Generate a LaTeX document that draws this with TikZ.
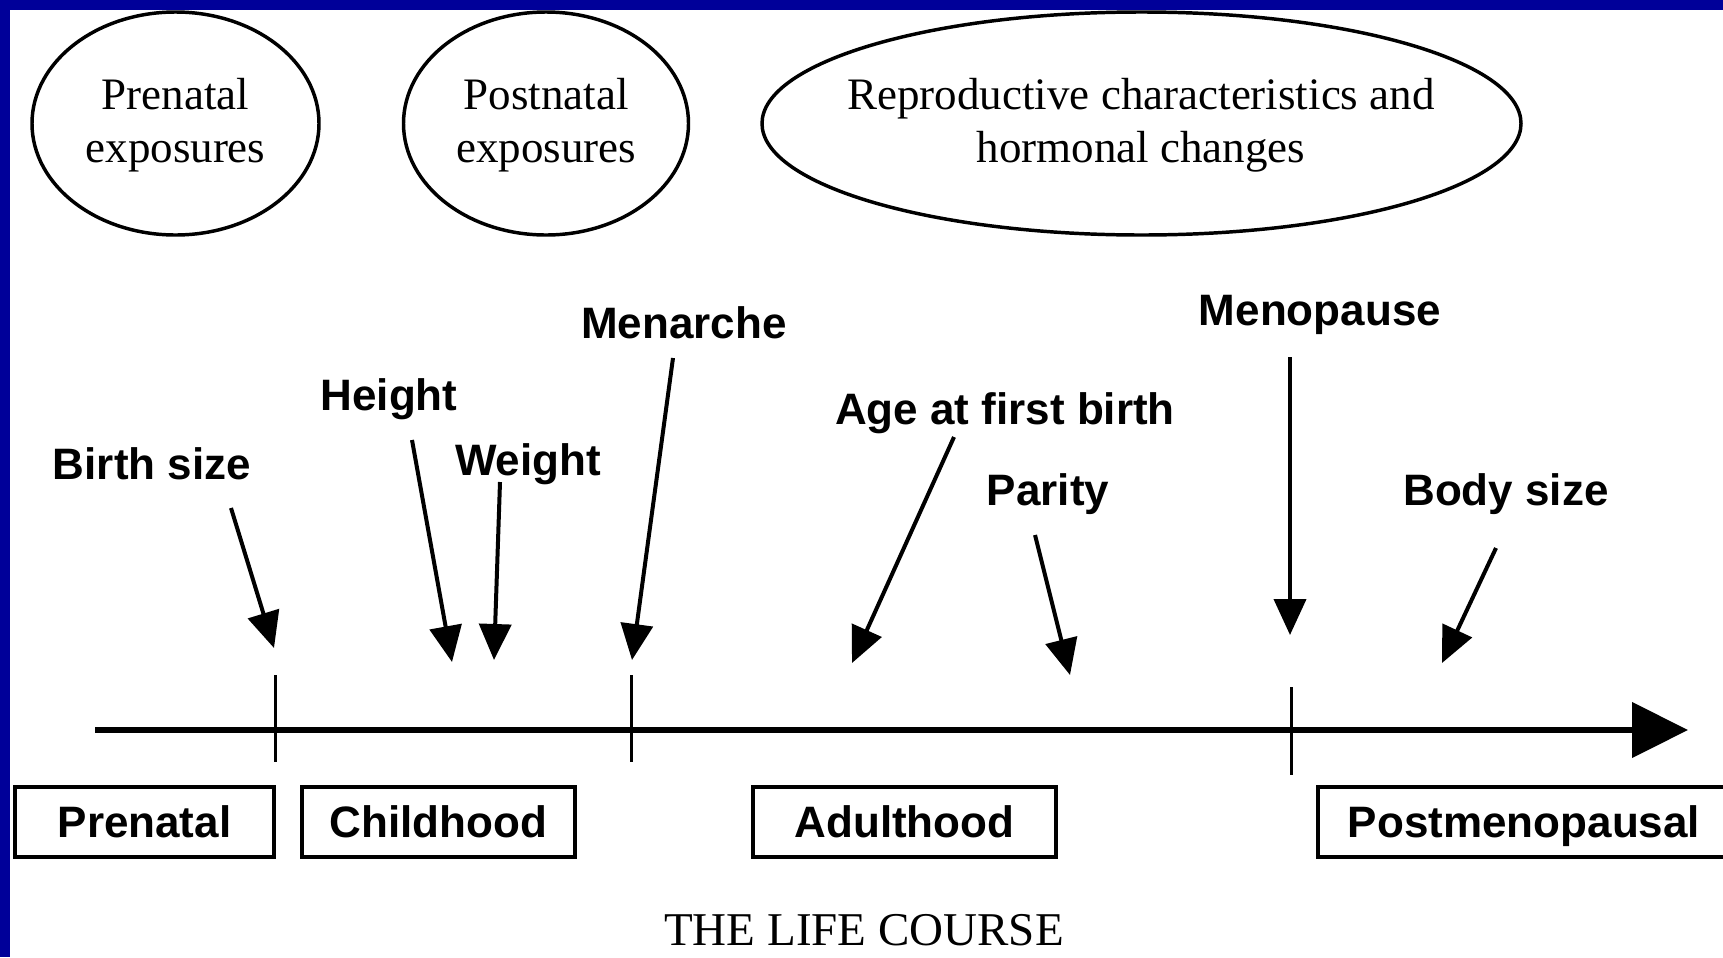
\documentclass[tikz,border=0pt]{standalone}
\usepackage{fontspec}
\setmainfont{Liberation Serif}
\setsansfont{Liberation Sans}
\usepackage{xcolor}
\usepackage{tikz}
\usetikzlibrary{arrows.meta,calc}
\definecolor{frameblue}{RGB}{0,0,153}

\begin{document}
\begin{tikzpicture}[x=0.75pt,y=0.75pt,yscale=-1,xscale=1,
  lbl/.style={anchor=base,inner sep=0.75pt,font=\sffamily\bfseries\fontsize{33}{39}\selectfont},
  expo/.style={inner sep=0.75pt,align=center,font=\fontsize{33.75}{39.75}\selectfont},
  ring/.style={line width=2.6pt},
  pointer/.style={line width=3pt,-{Triangle[length=27pt,width=24pt]}},
  stagebox/.style={draw,line width=3pt,minimum height=52.5pt,inner sep=0pt,text depth=0pt,font=\sffamily\bfseries\fontsize{33}{39}\selectfont},
  tick/.style={line width=2.25pt}]
\useasboundingbox (0,0) rectangle (1723,957);

\fill[frameblue] (0,0) rectangle (1723,10);

\fill[frameblue] (0,0) rectangle (10,957);

\draw[ring] (175.5,123.5) ellipse [x radius=143.5, y radius=111.5];

\draw[ring] (546,123.5) ellipse [x radius=142.5, y radius=111.5];

\draw[ring] (1141.5,123.5) ellipse [x radius=379.5, y radius=111.5];

\draw (175.5,125) node [expo] (prenatalexp) {Prenatal\\exposures};

\draw (546,125) node [expo] (postnatalexp) {Postnatal\\exposures};

\draw (1141,125) node [expo] (reproductive) {Reproductive characteristics and\\hormonal changes};

\draw (152,479) node [lbl] (birth) {Birth size};

\draw (389,410) node [lbl] (height) {Height};

\draw (528,475) node [lbl] (weight) {Weight};

\draw (684,338) node [lbl] (menarche) {Menarche};

\draw (1005,424) node [lbl] (agefirst) {Age at first birth};

\draw (1048,505) node [lbl] (parity) {Parity};

\draw (1320,325) node [lbl] (menopause) {Menopause};

\draw (1506,505) node [lbl] (bodysize) {Body size};

\coordinate (birthtip) at (274,648);
\coordinate (heighttip) at (452,662);
\coordinate (weighttip) at (494,660);
\coordinate (menarchetip) at (632,660);
\coordinate (agefirsttip) at (852,663);
\coordinate (paritytip) at (1070,675);
\coordinate (menopausetip) at (1290,635);
\coordinate (bodysizetip) at (1442,663);

\draw[pointer] ($(birth.base)+(79,29)$) -- (birthtip);

\draw[pointer] ($(height.base)+(23,30)$) -- (heighttip);

\draw[pointer] ($(weight.base)+(-28,7)$) -- (weighttip);

\draw[pointer] ($(menarche.base)+(-11,20)$) -- (menarchetip);

\draw[pointer] ($(agefirst.base)+(-51,13)$) -- (agefirsttip);

\draw[pointer] ($(parity.base)+(-13,30)$) -- (paritytip);

\draw[pointer] ($(menopause.base)+(-30,32)$) -- (menopausetip);

\draw[pointer] ($(bodysize.base)+(-10,43)$) -- (bodysizetip);

\coordinate (born) at (95,730);
\coordinate (later) at (1688,730);

\draw[line width=4.2pt,-{Triangle[length=42pt,width=41pt]}] (born) -- (later);

\draw[tick] (275,675) -- (275,762);

\draw[tick] (631,675) -- (631,762);

\draw[tick] (1291,687) -- (1291,775);

\draw (144.5,822) node [stagebox,minimum width=194pt] (prenatal) {Prenatal};

\draw (438.5,822) node [stagebox,minimum width=204.75pt] (childhood) {Childhood};

\draw (904.5,822) node [stagebox,minimum width=227.25pt] (adulthood) {Adulthood};

\draw (1524,822) node [stagebox,minimum width=309pt] (postmeno) {Postmenopausal};

\draw (864,945) node [anchor=base,inner sep=0.75pt,font=\fontsize{35.25}{40}\selectfont] (lifecourse) {THE LIFE COURSE};
\end{tikzpicture}
\end{document}
